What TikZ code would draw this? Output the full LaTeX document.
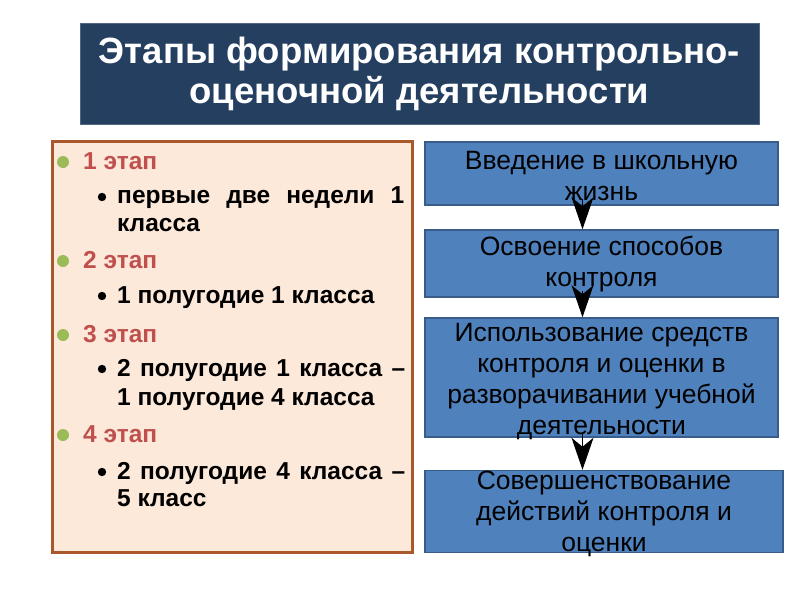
\documentclass[tikz,border=0pt]{standalone}
\usepackage{fontspec}
\setmainfont{Liberation Sans}
\usepackage{xcolor}
\usepackage{tikz}
\usetikzlibrary{arrows.meta,positioning}
\definecolor{navy}{HTML}{243F60}
\definecolor{peach}{HTML}{FDE9DA}
\definecolor{rust}{HTML}{A8582B}
\definecolor{stagec}{HTML}{C0504D}
\definecolor{leaf}{HTML}{9BBB59}
\definecolor{boxc}{HTML}{4F81BD}
\definecolor{boxd}{HTML}{385D8A}
\tikzset{
  ttl/.style={fill=navy,draw=navy!80,text=white,minimum width=679pt,minimum height=101pt,align=center,inner sep=0pt,font=\fontsize{36.5}{40}\selectfont\bfseries},
  stg/.style={anchor=base west,inner sep=0pt,text=stagec,font=\fontsize{24.5}{28}\selectfont\bfseries},
  itm/.style={anchor=base west,inner sep=0pt,font=\fontsize{24.5}{28}\selectfont\bfseries},
  fbox/.style={draw=boxd,line width=1.5pt,fill=boxc,inner sep=0pt,minimum height=#1},
  ftxt/.style={align=center,inner sep=0pt,font=\fontsize{26.5}{31}\selectfont},
  arr/.style={-{Stealth[length=32pt,width=22pt,inset=9pt]},line width=1pt,black}
}

\begin{document}
\begin{tikzpicture}[x=1pt,y=-1pt]
\useasboundingbox (0,0) rectangle (800,600);
% title
\node[ttl] (title) at (419.5,73.5) {Этапы формирования контрольно-\\оценочной деятельности};
% left panel
\draw[rust,line width=3pt,fill=peach] (52,141) rectangle (412,552);
\foreach \y in {162,261,335,435}{\fill[leaf] (63,\y) circle (6pt);}
\foreach \y in {197,296,369,472}{\fill[black] (102,\y) circle (4.2pt);}
\node[stg] (s1) at (83,169) {1 этап};
\node[itm] (s1a) at (117,203) {\makebox[287pt][s]{первые две недели 1}};
\node[itm] (s1b) at (117,231) {класса};
\node[stg] (s2) at (83,268) {2 этап};
\node[itm] (s2a) at (117,303) {1 полугодие 1 класса};
\node[stg] (s3) at (83,342) {3 этап};
\node[itm] (s3a) at (117,376) {\makebox[288pt][s]{2 полугодие 1 класса –}};
\node[itm] (s3b) at (117,405) {1 полугодие 4 класса};
\node[stg] (s4) at (83,442) {4 этап};
\node[itm] (s4a) at (117,479) {\makebox[288pt][s]{2 полугодие 4 класса –}};
\node[itm] (s4b) at (117,506) {5 класс};
% right column
\node[fbox=63pt,minimum width=353pt] (b1) at (601.5,173.5) {};
\node[fbox=67pt,minimum width=353pt] (b2) at (601.5,263.5) {};
\node[fbox=119pt,minimum width=353pt] (b3) at (601.5,377.5) {};
\node[fbox=82pt,minimum width=358pt] (b4) at (604,511.5) {};
\node[ftxt] (t1) at (601.5,176) {Введение в школьную\\жизнь};
\node[ftxt] (t2) at (601.5,264) {Освоение способов\\контроля};
\node[ftxt] (t3) at (601.5,382) {Использование средств\\контроля и оценки в\\разворачивании учебной\\деятельности};
\node[ftxt] (t4) at (604,514) {Совершенствование\\действий контроля и\\оценки};
\draw[arr] ([xshift=-19pt,yshift=7pt]b1.south) -- ([xshift=-19pt]b2.north);
\draw[arr] ([xshift=-19pt,yshift=7pt]b2.south) -- ([xshift=-19pt]b3.north);
\draw[arr] ([xshift=-19pt,yshift=5pt]b3.south) -- ([xshift=-21.5pt]b4.north);
\end{tikzpicture}
\end{document}
